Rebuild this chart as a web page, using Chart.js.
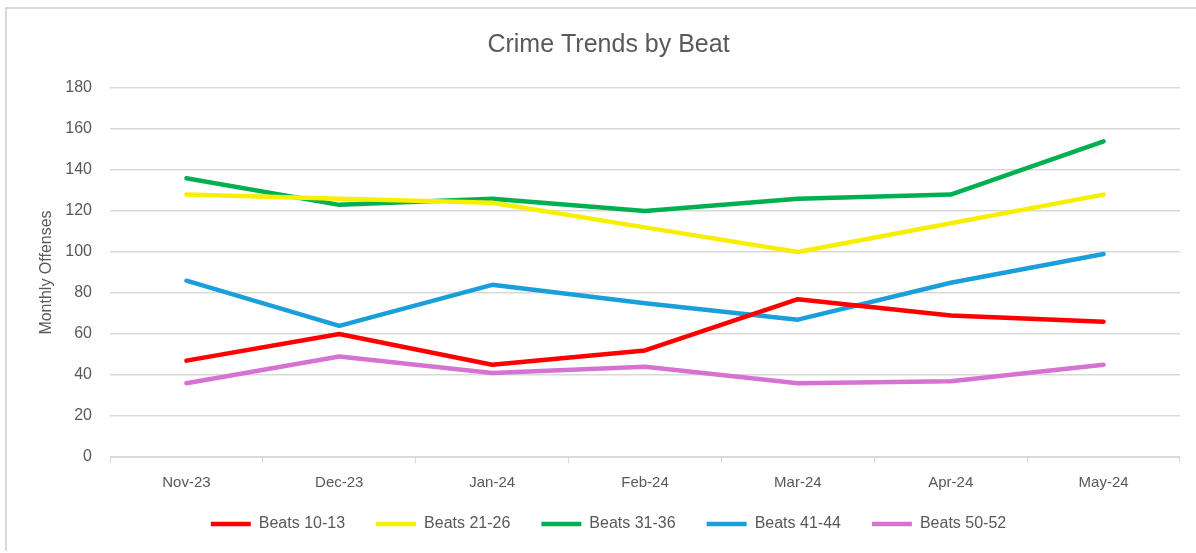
<!DOCTYPE html>
<html>
<head>
<meta charset="utf-8">
<script src="https://cdn.jsdelivr.net/npm/chart.js@4/dist/chart.umd.min.js"></script>
<style>
  html, body { margin: 0; padding: 0; background: #fff; }
  #wrap {
    position: absolute; left: 5px; top: 7px;
    width: 1195px; height: 544px;
    border-left: 2px solid #d9d9d9; border-top: 2px solid #d9d9d9;
    box-sizing: border-box;
  }
  canvas { display: block; }
</style>
</head>
<body>
<div id="wrap"><canvas id="myChart"></canvas></div>
<script>
// months on the x axis
const months = ['Nov-23', 'Dec-23', 'Jan-24', 'Feb-24', 'Mar-24', 'Apr-24', 'May-24'];

// monthly offenses per beat group
const beats10to13 = [47, 60, 45, 52, 77, 69, 66];
const beats21to26 = [128, 126, 124, 112, 100, 114, 128];
const beats31to36 = [136, 123, 126, 120, 126, 128, 154];
const beats41to44 = [86, 64, 84, 75, 67, 85, 99];
const beats50to52 = [36, 49, 41, 44, 36, 37, 45];

const seriesNames = ['Beats 10-13', 'Beats 21-26', 'Beats 31-36', 'Beats 41-44', 'Beats 50-52'];
const seriesValues = [beats10to13, beats21to26, beats31to36, beats41to44, beats50to52];
const seriesColors = ['#ff0000', '#f7ef00', '#00b050', '#1a9fdb', '#d672d2'];

const textColor = '#595959';
const fontFamily = '"Liberation Sans", Arial, sans-serif';

const datasets = seriesNames.map((name, i) => ({
  label: name,
  data: seriesValues[i],
  borderColor: seriesColors[i],
  backgroundColor: seriesColors[i],
  borderWidth: 4.5,
  borderCapStyle: 'round',
  borderJoinStyle: 'round',
  pointRadius: 0,
  pointHoverRadius: 0,
  tension: 0,
  fill: false
}));

new Chart(document.getElementById('myChart'), {
  type: 'line',
  data: { labels: months, datasets: datasets },
  options: {
    responsive: true,
    maintainAspectRatio: false,
    animation: false,
    layout: { padding: { left: 30, right: 20, top: 15, bottom: 9 } },
    plugins: {
      title: {
        display: true,
        text: 'Crime Trends by Beat',
        color: textColor,
        font: { family: fontFamily, size: 25, weight: 'normal' },
        padding: { top: 6, bottom: 28 }
      },
      legend: {
        position: 'bottom',
        labels: {
          color: textColor,
          font: { family: fontFamily, size: 16 },
          usePointStyle: true,
          pointStyle: 'line',
          pointStyleWidth: 40,
          padding: 31
        }
      },
      tooltip: { enabled: false }
    },
    scales: {
      x: {
        offset: true,
        grid: {
          display: true,
          drawOnChartArea: false,
          drawTicks: true,
          tickLength: 6,
          offset: true,
          color: '#d9d9d9'
        },
        border: { display: true, color: '#d9d9d9', width: 1 },
        ticks: {
          color: textColor,
          font: { family: fontFamily, size: 15 },
          padding: 11,
          maxRotation: 0
        },
        // tight axis band so the legend sits close; labels may spill below it
        afterFit: (scale) => {
          scale.height = 28;
          scale._computeLabelArea = () => undefined;
        }
      },
      y: {
        min: 0,
        max: 180,
        ticks: {
          stepSize: 20,
          color: textColor,
          font: { family: fontFamily, size: 16 },
          padding: 18
        },
        grid: { color: '#d9d9d9', lineWidth: 1.5, drawTicks: false },
        border: { display: false },
        title: {
          display: true,
          text: 'Monthly Offenses',
          color: textColor,
          font: { family: fontFamily, size: 16 },
          padding: { top: 0, bottom: 10 }
        },
        afterFit: (scale) => { scale.width = 73; }
      }
    }
  }
});
</script>
</body>
</html>
